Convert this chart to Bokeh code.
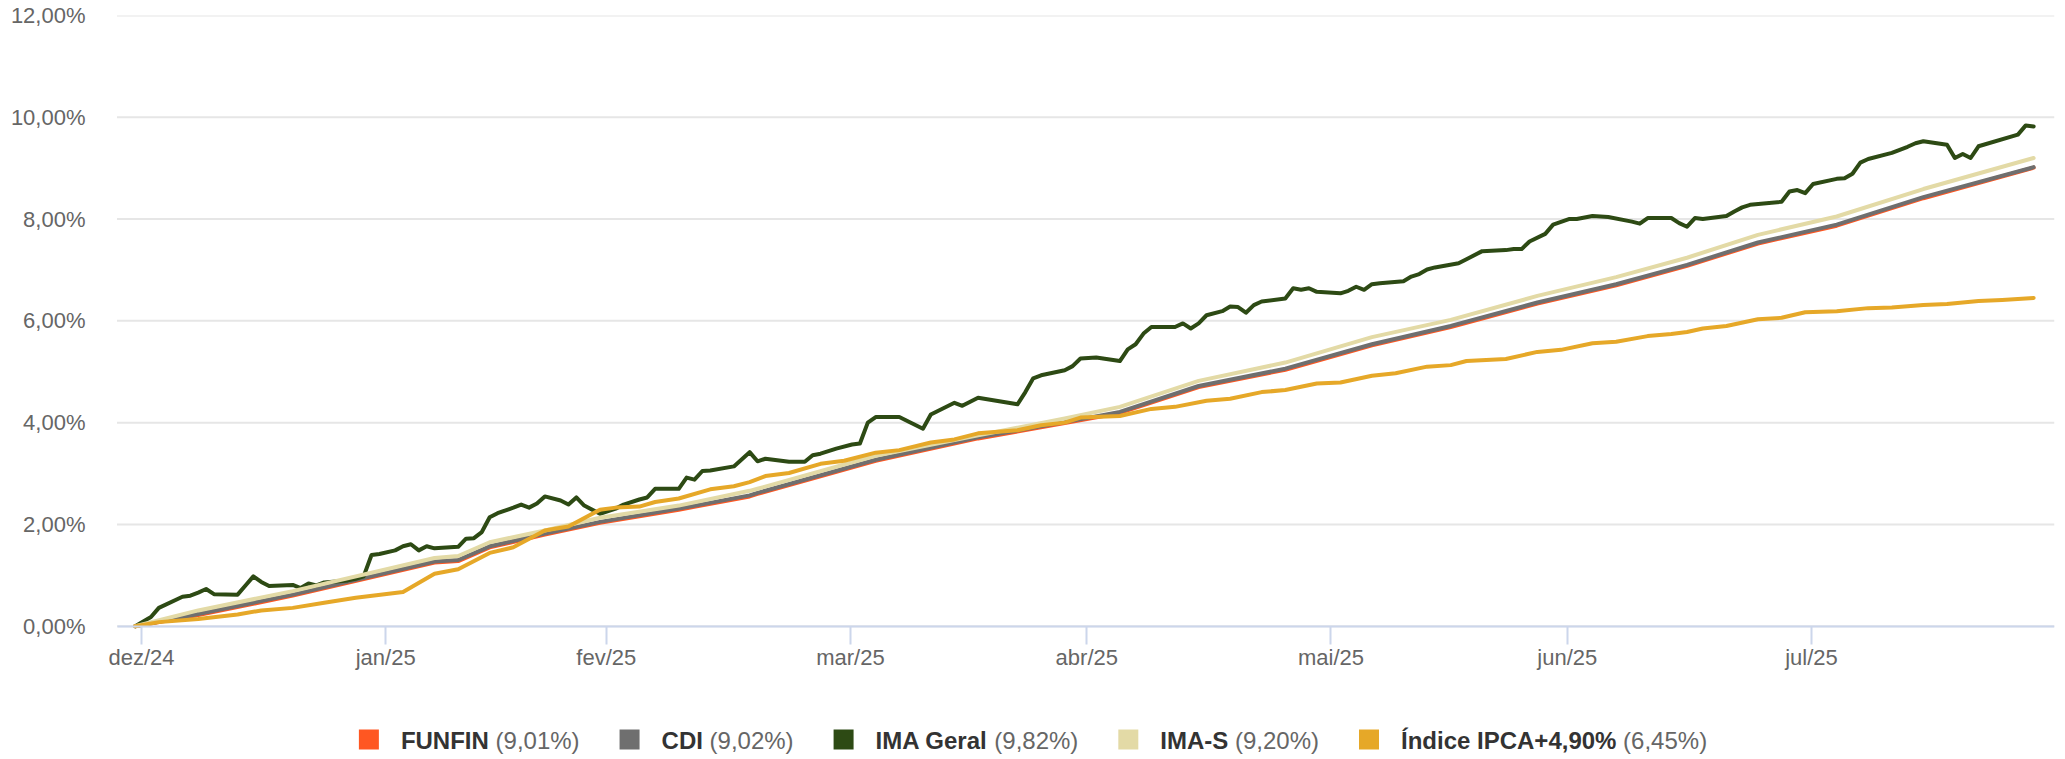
import pandas as pd
from bokeh.plotting import figure
from bokeh.models import Range1d, FixedTicker
from bokeh.core.properties import value
from bokeh.embed import file_html
from bokeh.resources import INLINE

# ---------------- data (days counted from 2025-01-01) ----------------
BASE = pd.Timestamp("2025-01-01")

month_starts = ["2025-01-01", "2025-02-01", "2025-03-01", "2025-04-01",
                "2025-05-01", "2025-06-01", "2025-07-01", "2025-08-01"]
month_labels = ["dez/24", "jan/25", "fev/25", "mar/25", "abr/25", "mai/25", "jun/25", "jul/25"]

y_ticks = [0, 2, 4, 6, 8, 10, 12]

ima_geral_day = [
    -1, 1, 2, 5, 6, 7, 8, 9, 12, 13, 14, 15, 16, 19, 20, 21, 22, 23, 26, 27, 28, 29, 30,
    32, 33, 34, 35, 36, 37, 40, 41, 42, 43, 44, 45, 47, 48, 49, 50, 51, 53, 54, 55, 56, 58,
    60, 61, 63, 64, 65, 68, 69, 70, 71, 72, 75, 77, 78, 79, 82, 84, 85, 86, 88, 90,
    91, 92, 93, 96, 99, 100, 103, 104, 106, 111, 112, 113, 114, 117, 118, 119,
    121, 124, 125, 126, 127, 128, 131, 132, 133, 134, 135, 137, 138, 139, 140, 141, 142, 145, 146, 147, 148, 149,
    152, 153, 154, 155, 156, 157, 160, 161, 162, 163, 164, 167, 168, 170, 173, 174, 175, 176, 178, 179,
    181, 182, 184, 186, 189, 190, 191, 194, 195, 196, 197, 198, 201, 202, 203, 204, 208, 209, 210, 211,
    212, 215, 216, 217, 218, 219, 222, 223, 224, 225, 226, 229, 230, 231, 232, 233, 238, 239, 240]
ima_geral = [
    0.00, 0.18, 0.36, 0.58, 0.60, 0.66, 0.73, 0.63, 0.62, 0.80, 0.98, 0.87, 0.79, 0.81, 0.75, 0.84, 0.80, 0.86, 0.90, 0.93, 0.98, 1.40, 1.42,
    1.49, 1.57, 1.61, 1.49, 1.57, 1.53, 1.56, 1.72, 1.73, 1.85, 2.14, 2.22, 2.33, 2.39, 2.33, 2.41, 2.55, 2.47, 2.39, 2.53, 2.37, 2.21,
    2.31, 2.39, 2.49, 2.53, 2.70, 2.70, 2.92, 2.88, 3.05, 3.06, 3.14, 3.42, 3.24, 3.29, 3.23, 3.23, 3.36, 3.39, 3.49, 3.57,
    3.59, 4.00, 4.11, 4.11, 3.88, 4.16, 4.39, 4.33, 4.49, 4.36, 4.60, 4.87, 4.93, 5.03, 5.11, 5.26,
    5.28, 5.21, 5.44, 5.54, 5.75, 5.88, 5.88, 5.95, 5.85, 5.95, 6.11, 6.19, 6.28, 6.27, 6.16, 6.31, 6.38, 6.44, 6.64, 6.61, 6.64, 6.57,
    6.54, 6.59, 6.67, 6.61, 6.72, 6.74, 6.78, 6.87, 6.92, 7.01, 7.05, 7.13, 7.21, 7.37, 7.39, 7.41, 7.41, 7.56, 7.71, 7.89,
    8.00, 8.00, 8.06, 8.04, 7.95, 7.91, 8.02, 8.02, 7.92, 7.85, 8.02, 8.00, 8.06, 8.15, 8.23, 8.28, 8.34, 8.54, 8.57, 8.51,
    8.69, 8.79, 8.80, 8.89, 9.11, 9.18, 9.30, 9.36, 9.42, 9.49, 9.53, 9.46, 9.20, 9.28, 9.20, 9.43, 9.66, 9.84, 9.82]

cdi_day = [-1, 7, 19, 37, 40, 44, 51, 58, 68, 77, 78, 93, 106, 117, 124, 134, 145, 156,
           166, 177, 187, 196, 205, 215, 226, 240]
cdi = [0.00, 0.24, 0.62, 1.27, 1.30, 1.57, 1.82, 2.05, 2.31, 2.57, 2.62, 3.27, 3.71, 4.01, 4.21, 4.72, 5.06, 5.54,
       5.90, 6.36, 6.72, 7.10, 7.54, 7.89, 8.43, 9.02]
funfin = [0.00, 0.22, 0.60, 1.25, 1.28, 1.55, 1.80, 2.03, 2.29, 2.55, 2.60, 3.25, 3.69, 3.99, 4.19, 4.70, 5.04, 5.52,
          5.88, 6.34, 6.70, 7.08, 7.52, 7.87, 8.41, 9.01]
ima_s = [0.00, 0.31, 0.69, 1.34, 1.38, 1.65, 1.88, 2.13, 2.37, 2.66, 2.70, 3.35, 3.75, 4.08, 4.31, 4.82, 5.18, 5.68,
         6.02, 6.49, 6.86, 7.24, 7.69, 8.05, 8.59, 9.20]

ipca_day = [-1, 2, 7, 12, 15, 19, 23, 27, 33, 37, 40, 44, 47, 51, 54, 58, 60, 63, 65, 68,
            72, 75, 77, 79, 82, 86, 89, 93, 96, 100, 103, 106, 111, 114, 117, 119, 124, 128, 131, 135,
            138, 142, 145, 149, 152, 156, 159, 163, 166, 168, 173, 177, 180, 184, 187, 191, 194, 196, 198, 201,
            205, 208, 211, 215, 219, 222, 226, 229, 233, 236, 240]
ipca = [0.00, 0.08, 0.14, 0.23, 0.31, 0.36, 0.46, 0.56, 0.67, 1.03, 1.12, 1.44, 1.55, 1.88, 1.96, 2.29, 2.33, 2.35, 2.44, 2.51,
        2.69, 2.75, 2.83, 2.95, 3.01, 3.19, 3.25, 3.41, 3.46, 3.61, 3.67, 3.79, 3.85, 3.95, 4.00, 4.10, 4.13, 4.27, 4.31, 4.43,
        4.47, 4.60, 4.64, 4.77, 4.79, 4.92, 4.97, 5.10, 5.13, 5.21, 5.25, 5.39, 5.43, 5.56, 5.59, 5.70, 5.74, 5.78, 5.85, 5.90,
        6.03, 6.06, 6.17, 6.19, 6.25, 6.26, 6.31, 6.33, 6.39, 6.41, 6.45]

series_names = ["FUNFIN", "CDI", "IMA Geral", "IMA-S", "Índice IPCA+4,90%"]
series_colors = ["#FF5722", "#6F6F6F", "#2D4A14", "#E3DAA6", "#E6A828"]
series_days = [cdi_day, cdi_day, ima_geral_day, cdi_day, ipca_day]
series_vals = [funfin, cdi, ima_geral, ima_s, ipca]

# ---------------- layout (figure pixels == page pixels) ----------------
FONT = "Liberation Sans"
TZ_SHIFT = 0.2          # data timestamps sit slightly after the UTC-midnight ticks
FIG_W, FIG_H = 2065, 759
FRAME_L, FRAME_R, FRAME_T = 100, 2054, 15     # frame reaches the figure bottom
PLOT_L = 116.5                                # visible plot area (grid / axis line) starts here
ZERO_PX = 625.7                               # pixel row of the 0 % line
PX_PER_DAY = 7.8774
TICK0_PX = 141.0                              # pixel column of the first month tick (day 0)
X0 = (FRAME_L - TICK0_PX) / PX_PER_DAY
X1 = (FRAME_R - TICK0_PX) / PX_PER_DAY
Y_TOP = 12
PX_PER_PCT = (ZERO_PX - FRAME_T) / Y_TOP
Y_BOT = -(FIG_H - ZERO_PX) / PX_PER_PCT

def px_to_x(px):
    return X0 + (px - FRAME_L) / PX_PER_DAY

def py_to_y(py):
    return (ZERO_PX - py) / PX_PER_PCT

p = figure(width=FIG_W, height=FIG_H, output_backend="svg", toolbar_location=None,
           x_range=Range1d(X0, X1), y_range=Range1d(Y_BOT, Y_TOP),
           min_border_left=FRAME_L, min_border_right=FIG_W - FRAME_R,
           min_border_top=FRAME_T, min_border_bottom=0)
p.outline_line_color = None
p.background_fill_color = "white"
p.border_fill_color = "white"

# horizontal grid lines, limited to the plot area
gx0, gx1 = px_to_x(PLOT_L), X1
p.segment(x0=[gx0] * len(y_ticks), y0=y_ticks, x1=[gx1] * len(y_ticks), y1=y_ticks,
          line_color="#e6e6e6", line_width=2)
p.xgrid.visible = False
p.ygrid.visible = False

for days, vals, col in zip(series_days, series_vals, series_colors):
    xs = [d + TZ_SHIFT for d in days]
    p.line(xs, vals, line_width=4, line_color=col, line_join="round", line_cap="round")

tick_pos = [(pd.Timestamp(t) - BASE).days for t in month_starts]
p.xaxis.fixed_location = 0
p.xaxis.bounds = (gx0, gx1)
p.xaxis.ticker = FixedTicker(ticks=tick_pos)
p.xaxis.major_label_overrides = {t: l for t, l in zip(tick_pos, month_labels)}
p.xaxis.axis_line_color = "#ccd6eb"
p.xaxis.axis_line_width = 2
p.xaxis.major_tick_line_color = "#ccd6eb"
p.xaxis.major_tick_line_width = 2
p.xaxis.major_tick_in = 0
p.xaxis.major_tick_out = 18
p.xaxis.minor_tick_line_color = None
p.xaxis.major_label_standoff = 1
p.xaxis.major_label_text_font = FONT
p.xaxis.major_label_text_font_size = "22px"
p.xaxis.major_label_text_color = "#666666"

p.yaxis.ticker = FixedTicker(ticks=y_ticks)
p.yaxis.major_label_overrides = {v: f"{v:.2f}".replace(".", ",") + "%" for v in y_ticks}
p.yaxis.axis_line_color = None
p.yaxis.major_tick_line_color = None
p.yaxis.minor_tick_line_color = None
p.yaxis.major_tick_in = 0
p.yaxis.major_tick_out = 0
p.yaxis.major_label_standoff = 15
p.yaxis.major_label_text_font = FONT
p.yaxis.major_label_text_font_size = "22px"
p.yaxis.major_label_text_color = "#666666"

# ---------------- legend below the axis ----------------
BOLD_W = {"F": 611, "U": 722, "N": 722, "I": 278, "C": 722, "D": 722, "M": 833, "A": 722, " ": 278,
          "G": 778, "e": 556, "r": 389, "a": 556, "l": 278, "-": 333, "S": 667, "Í": 278, "n": 611,
          "d": 611, "i": 278, "c": 556, "P": 667, "+": 584, ",": 278, "%": 889}
REG_W = {"(": 333, ")": 333, ",": 278, "%": 889, " ": 278}

def text_w(s, table, size):
    return sum(table.get(ch, 556) for ch in s) * size / 1000.0

LEG_SIZE = 24
val_texts = ["(" + f"{v[-1]:.2f}".replace(".", ",") + "%)" for v in series_vals]
item_w = [42 + text_w(n, BOLD_W, LEG_SIZE) + text_w(" ", REG_W, LEG_SIZE) + text_w(t, REG_W, LEG_SIZE)
          for n, t in zip(series_names, val_texts)]
gap = 40
total = sum(item_w) + gap * (len(item_w) - 1)
start = FIG_W / 2 - total / 2

sq_x, name_x, val_x = [], [], []
for n, w in zip(series_names, item_w):
    sq_x.append(px_to_x(start + 10))
    name_x.append(px_to_x(start + 42))
    val_x.append(px_to_x(start + 42 + text_w(n, BOLD_W, LEG_SIZE) + text_w(" ", REG_W, LEG_SIZE)))
    start += w + gap

SQ_Y = py_to_y(739)
BASE_Y = py_to_y(740)
p.scatter(sq_x, [SQ_Y] * 5, marker="square", size=20, fill_color=series_colors, line_color=None)
p.text(name_x, [BASE_Y] * 5, text=series_names, text_font=value(FONT), text_font_size="24px",
       text_font_style="bold", text_color="#333333", text_baseline="alphabetic", text_align="left")
p.text(val_x, [BASE_Y] * 5, text=val_texts, text_font=value(FONT), text_font_size="24px",
       text_color="#666666", text_baseline="alphabetic", text_align="left")

open("out.html", "w").write(file_html(p, INLINE))
